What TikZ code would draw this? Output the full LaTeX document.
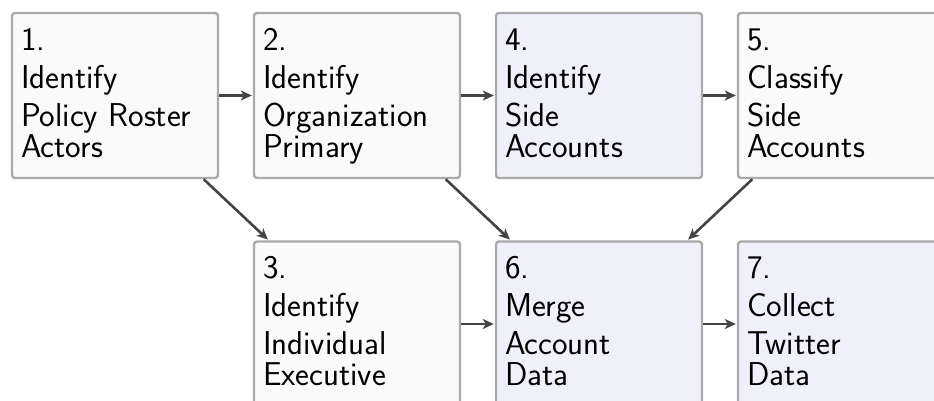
\documentclass[tikz,border=0pt]{standalone}
\usetikzlibrary{arrows.meta}
\definecolor{boxline}{HTML}{AAAAAA}
\definecolor{graybox}{HTML}{FAFAFA}
\definecolor{lavbox}{HTML}{F0F0FD}
\definecolor{arrowc}{HTML}{444444}
\tikzset{
  stepbox/.style={draw=boxline, line width=2.4pt, rounded corners=3pt, minimum width=206pt, minimum height=165pt, inner sep=0pt, fill=graybox},
  lavstep/.style={stepbox, fill=lavbox},
  steptext/.style={anchor=north west, inner sep=0pt, align=left, font=\fontsize{33}{31}\selectfont\sffamily, text=black},
  flow/.style={draw=arrowc, line width=2.6pt, -{Stealth[length=11pt, width=10pt, inset=3pt]}, shorten >=1pt},
}
\newcommand{\firstline}{\rule{0pt}{25pt}}
\begin{document}
\begin{tikzpicture}[x=1pt,y=1pt]
\useasboundingbox (0,0) rectangle (934,-400);
\clip (0,0) rectangle (934,-400);
\node[stepbox] (b1) at (115,-95.5) {};
\node[stepbox] (b2) at (357,-95.5) {};
\node[lavstep] (b4) at (599,-95.5) {};
\node[stepbox] (b5) at (841,-95.5) {};
\node[stepbox] (b3) at (357,-324) {};
\node[lavstep] (b6) at (599,-324) {};
\node[lavstep] (b7) at (841,-324) {};
\node[steptext] (t1) at ([shift={(10,-13)}]b1.north west) {\firstline 1.\\[7pt]Identify\\[7pt]Policy Roster\\Actors};
\node[steptext] (t2) at ([shift={(10,-13)}]b2.north west) {\firstline 2.\\[7pt]Identify\\[7pt]Organization\\Primary};
\node[steptext] (t4) at ([shift={(10,-13)}]b4.north west) {\firstline 4.\\[7pt]Identify\\[7pt]Side\\Accounts};
\node[steptext] (t5) at ([shift={(10,-13)}]b5.north west) {\firstline 5.\\[7pt]Classify\\[7pt]Side\\Accounts};
\node[steptext] (t3) at ([shift={(10,-13)}]b3.north west) {\firstline 3.\\[7pt]Identify\\[7pt]Individual\\Executive};
\node[steptext] (t6) at ([shift={(10,-13)}]b6.north west) {\firstline 6.\\[7pt]Merge\\[7pt]Account\\Data};
\node[steptext] (t7) at ([shift={(10,-13)}]b7.north west) {\firstline 7.\\[7pt]Collect\\[7pt]Twitter\\Data};
\draw[flow] (b1) -- (b2);
\draw[flow] (b2) -- (b4);
\draw[flow] (b4) -- (b5);
\draw[flow] (b1) -- (b3);
\draw[flow] (b2) -- (b6);
\draw[flow] (b5) -- (b6);
\draw[flow] (b3) -- (b6);
\draw[flow] (b6) -- (b7);
\end{tikzpicture}
\end{document}
